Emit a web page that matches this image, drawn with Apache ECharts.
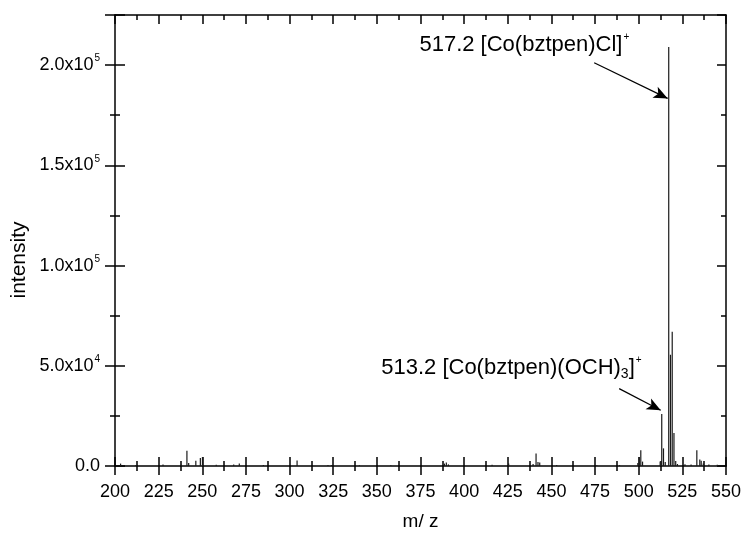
<!DOCTYPE html>
<html>
<head>
<meta charset="utf-8">
<script src="https://cdn.jsdelivr.net/npm/echarts@6/dist/echarts.min.js"></script>
<style>
  html, body { margin: 0; padding: 0; background: #fff; }
  #chart { width: 744px; height: 536px; }
</style>
</head>
<body>
<div id="chart"></div>
<script>
// ESI mass spectrum: m/z positions and intensities of the peaks
const mzValues = [
  203.2, 212.0, 227.5, 238.0, 241.2, 242.2, 246.3, 248.9, 250.1, 258.0,
  268.0, 271.2, 285.0, 304.3, 322.0, 324.0, 340.0, 358.0, 388.7, 389.8,
  391.0, 416.0, 425.5, 439.5, 441.2, 442.3, 443.3, 453.0, 476.0, 489.0,
  499.5, 500.3, 501.2, 502.2, 512.3, 513.2, 514.2, 515.2, 517.2, 518.2,
  519.2, 520.2, 521.2, 522.2, 526.5, 530.0, 533.3, 535.0, 535.8, 537.0,
  540.2, 545.0
];
const intensityValues = [
  1200, 500, 800, 600, 7600, 1500, 2600, 4000, 4500, 600,
  700, 1300, 500, 2800, 500, 500, 400, 400, 1200, 1800,
  800, 600, 1200, 1000, 6200, 2000, 1800, 500, 400, 500,
  1500, 4500, 7800, 2200, 2200, 26000, 8800, 2000, 209000, 55500,
  67000, 16500, 2500, 1000, 900, 700, 7800, 3200, 2600, 1200,
  800, 600
];

// axis scales
const xMin = 200, xMax = 550, xStep = 25;
const yMin = 0, yMax = 225000, yStep = 50000;
const yTickLabels = ['0.0', '5.0x10^4', '1.0x10^5', '1.5x10^5', '2.0x10^5'];

// annotations: text anchor (m/z, intensity) and arrow from/to
const labelMain = { text: '517.2 [Co(bztpen)Cl]', at: [374.4, 210000] };
const arrowMain = [[474.5, 201200], [516.6, 183400]];
const labelSide = { text: '513.2 [Co(bztpen)(OCH)', at: [352.5, 49000] };
const arrowSide = [[488.8, 38600], [512.6, 27800]];

const peaks = mzValues.map((m, i) => [m, intensityValues[i]]);
const FONT = '"Liberation Sans", Arial, Helvetica, sans-serif';
const INK = '#000';

function yLabel(v) {
  const idx = Math.round(v / yStep);
  if (Math.abs(v - idx * yStep) > 1 || idx >= yTickLabels.length) return '';
  const s = yTickLabels[idx];
  const p = s.indexOf('^');
  if (p < 0) return '{m|' + s + '}';
  return '{m|' + s.slice(0, p) + '}{e|' + s.slice(p + 1) + '}';
}

const chart = echarts.init(document.getElementById('chart'), null, { renderer: 'canvas' });

const axisLineStyle = { color: INK, width: 1.5 };
const tickStyle = { color: INK, width: 1.5 };
const baseX = {
  type: 'value', min: xMin, max: xMax, interval: xStep, gridIndex: 0,
  splitLine: { show: false }
};
const baseY = {
  type: 'value', min: yMin, max: yMax, interval: yStep, gridIndex: 0,
  splitLine: { show: false }
};

chart.setOption({
  animation: false,
  backgroundColor: '#fff',
  grid: { left: 115, right: 17, top: 15, bottom: 65, containLabel: false },
  xAxis: [
    Object.assign({}, baseX, {
      position: 'bottom',
      name: 'm/ z', nameLocation: 'middle', nameGap: 46,
      nameTextStyle: { fontFamily: FONT, fontSize: 19, color: INK },
      axisLine: { show: true, onZero: false, lineStyle: axisLineStyle },
      axisTick: { show: true, inside: false, length: 9, lineStyle: tickStyle },
      minorTick: { show: true, splitNumber: 2, length: 5, lineStyle: tickStyle },
      axisLabel: { fontFamily: FONT, fontSize: 18, color: INK, margin: 17 }
    }),
    Object.assign({}, baseX, {
      position: 'bottom',
      axisLine: { show: false, onZero: false },
      axisTick: { show: true, inside: true, length: 9, lineStyle: tickStyle },
      minorTick: { show: true, splitNumber: 2, length: 5, lineStyle: tickStyle },
      axisLabel: { show: false }
    }),
    Object.assign({}, baseX, {
      position: 'top',
      axisLine: { show: true, onZero: false, lineStyle: axisLineStyle },
      axisTick: { show: true, inside: true, length: 9, lineStyle: tickStyle },
      minorTick: { show: true, splitNumber: 2, length: 5, lineStyle: tickStyle },
      axisLabel: { show: false }
    })
  ],
  yAxis: [
    Object.assign({}, baseY, {
      position: 'left',
      axisLine: { show: true, onZero: false, lineStyle: axisLineStyle },
      axisTick: { show: true, inside: false, length: 10, lineStyle: tickStyle },
      minorTick: { show: true, splitNumber: 2, length: 5, lineStyle: tickStyle },
      axisLabel: {
        margin: 15, formatter: yLabel, showMaxLabel: false,
        rich: {
          m: { fontFamily: FONT, fontSize: 18, color: INK },
          e: { fontFamily: FONT, fontSize: 10, color: INK, verticalAlign: 'top', padding: [0, 0, 13, 1] }
        }
      }
    }),
    Object.assign({}, baseY, {
      position: 'left',
      axisLine: { show: false, onZero: false },
      axisTick: { show: true, inside: true, length: 10, lineStyle: tickStyle },
      minorTick: { show: true, splitNumber: 2, length: 5, lineStyle: tickStyle },
      axisLabel: { show: false }
    }),
    Object.assign({}, baseY, {
      position: 'right',
      axisLine: { show: true, onZero: false, lineStyle: axisLineStyle },
      axisTick: { show: true, inside: true, length: 9, lineStyle: tickStyle },
      minorTick: { show: true, splitNumber: 2, length: 5, lineStyle: tickStyle },
      axisLabel: { show: false }
    })
  ],
  series: [{
    type: 'custom',
    xAxisIndex: 0, yAxisIndex: 0,
    data: peaks,
    clip: true,
    renderItem: function (params, api) {
      const base = api.coord([api.value(0), 0]);
      const top = api.coord([api.value(0), api.value(1)]);
      return {
        type: 'line',
        shape: { x1: base[0], y1: base[1], x2: top[0], y2: top[1] },
        style: { stroke: '#1a1a1a', lineWidth: 1.2 }
      };
    },
    markLine: {
      silent: true,
      symbol: ['none', 'arrow'],
      symbolSize: [9, 14],
      label: { show: false },
      lineStyle: { color: INK, width: 1.2, type: 'solid' },
      data: [
        [{ coord: arrowMain[0] }, { coord: arrowMain[1] }],
        [{ coord: arrowSide[0] }, { coord: arrowSide[1] }]
      ]
    }
  }]
});

// peak labels placed in data space
const pMain = chart.convertToPixel({ xAxisIndex: 0, yAxisIndex: 0 }, labelMain.at);
const pSide = chart.convertToPixel({ xAxisIndex: 0, yAxisIndex: 0 }, labelSide.at);
const annRich = {
  t: { fontFamily: FONT, fontSize: 22, fill: INK, lineHeight: 26 },
  sup: { fontFamily: FONT, fontSize: 10, fill: INK, verticalAlign: 'top', padding: [0, 0, 15, 1] },
  sub: { fontFamily: FONT, fontSize: 14, fill: INK, verticalAlign: 'bottom', padding: [10, 0, 0, 0] }
};
chart.setOption({
  graphic: [
    {
      type: 'text', x: 19, y: 260, rotation: Math.PI / 2,
      style: {
        text: 'intensity', fontFamily: FONT, fontSize: 21, fill: INK,
        align: 'center', verticalAlign: 'middle'
      }
    },
    {
      type: 'text', x: pMain[0], y: pMain[1],
      style: {
        text: '{t|' + labelMain.text + '}{sup|+}',
        verticalAlign: 'middle', align: 'left', rich: annRich
      }
    },
    {
      type: 'text', x: pSide[0], y: pSide[1],
      style: {
        text: '{t|' + labelSide.text + '}{sub|3}{t|]}{sup|+}',
        verticalAlign: 'middle', align: 'left', rich: annRich
      }
    }
  ]
});
</script>
</body>
</html>
